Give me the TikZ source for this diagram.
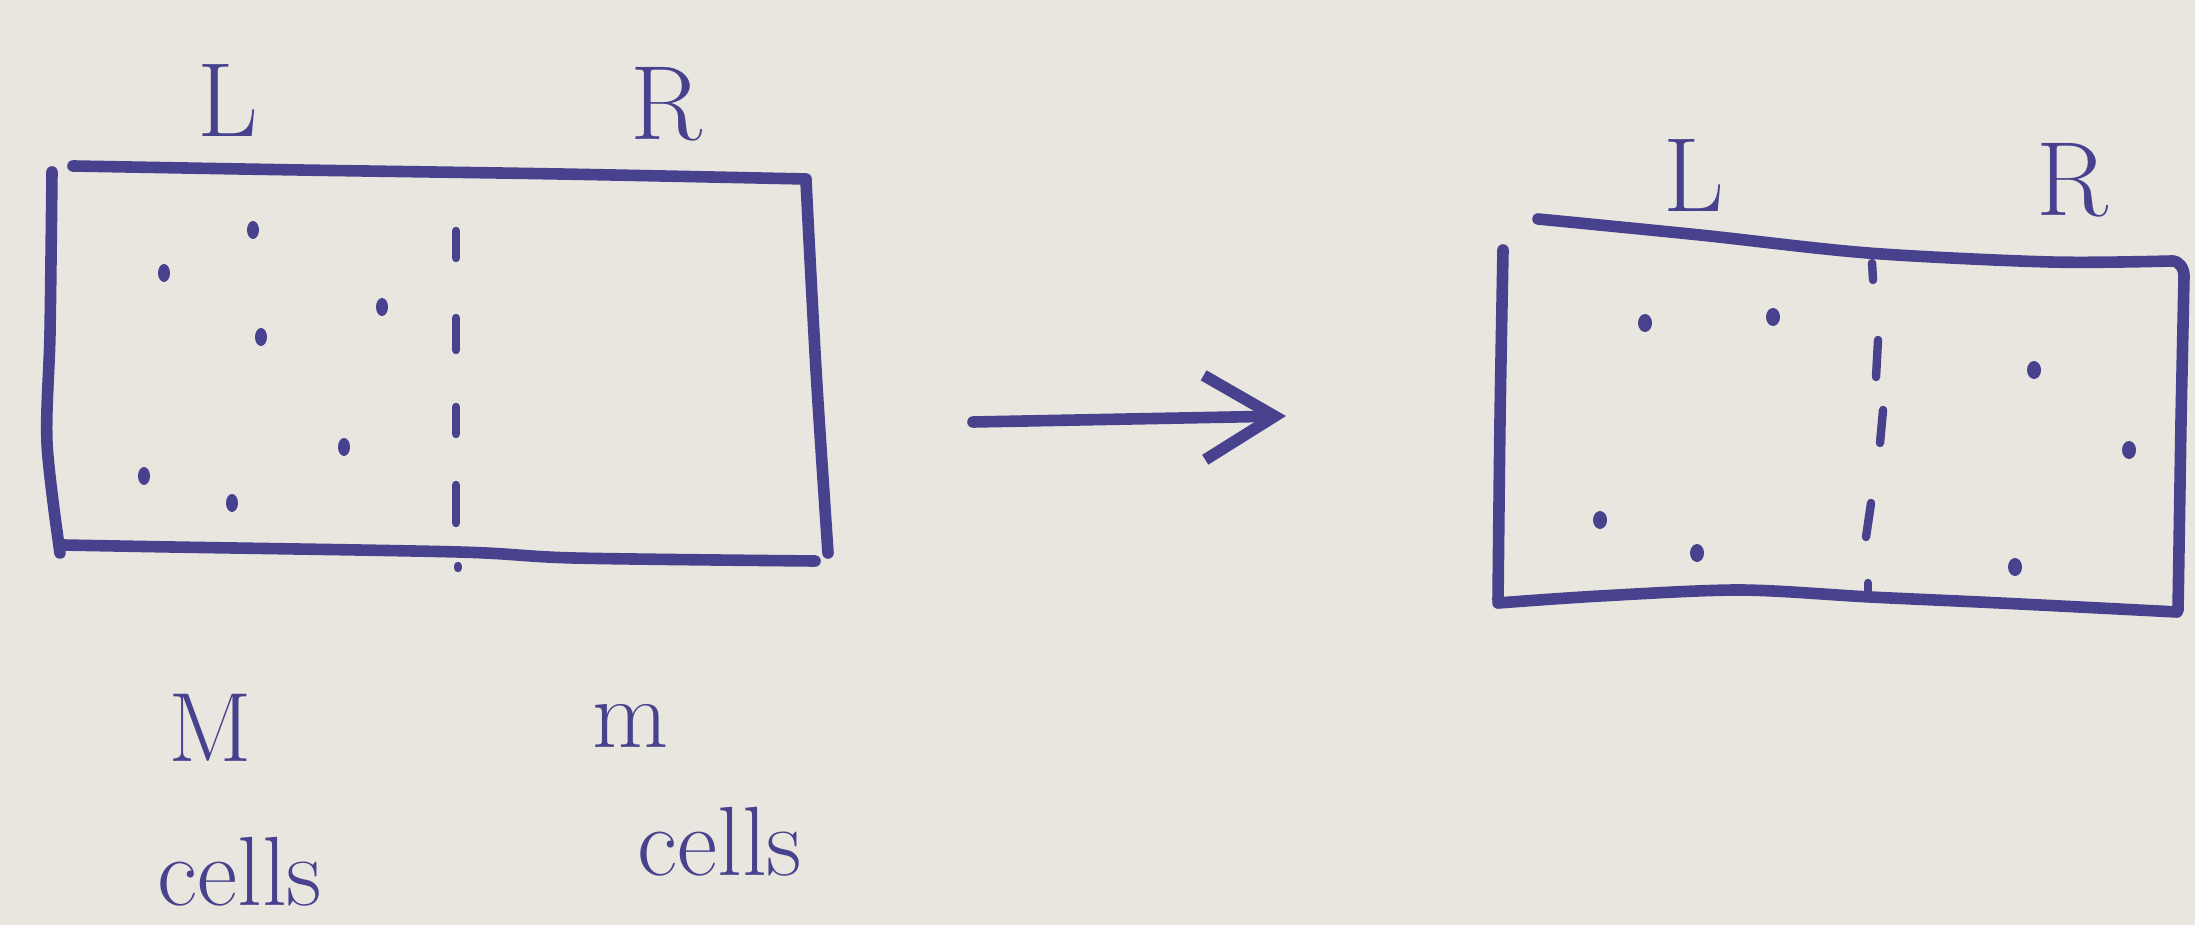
\documentclass[tikz,border=0pt]{standalone}
\usetikzlibrary{arrows.meta}
\definecolor{ink}{RGB}{72,66,142}
\definecolor{paper}{RGB}{232,230,222}
\begin{document}
\begin{tikzpicture}[x=0.01cm,y=-0.01cm,
  pen/.style={draw=ink,line width=3.3pt,line cap=round,line join=round},
  thin/.style={draw=ink,line width=2.4pt,line cap=round},
  lbl/.style={text=ink,font=\fontsize{30}{34}\selectfont,inner sep=0pt},
  sub/.style={text=ink,font=\fontsize{28}{32}\selectfont,inner sep=0pt}]
\fill[paper] (0,0) rectangle (2195,925);
\useasboundingbox (0,0) rectangle (2195,925);
% ---- left box ----
\draw[pen] plot[smooth] coordinates {(73,166) (300,170) (560,174) (806,179)};
\draw[pen] plot[smooth] coordinates {(52,172) (50,333) (47,443) (60,553)};
\draw[pen] plot[smooth] coordinates {(63,545) (172,547) (459,552) (574,558) (815,561)};
\draw[pen] plot[smooth] coordinates {(806,181) (816,370) (828,553)};
\foreach \a/\b in {231/258,318/350,407/434,485/523} \draw[thin] (456,\a) -- (456,\b);
\draw[thin] (458,566) -- (458,568);
\foreach \x/\y in {164/273,253/230,261/337,382/307,144/476,232/503,344/447}
  \fill[ink] (\x,\y) ellipse[x radius=6,y radius=9];
% ---- right box ----
\draw[pen] plot[smooth] coordinates {(1538,219) (1700,235) (1868,253) (2050,262) (2172,261)};
\draw[pen] (2172,261) to[out=0,in=90] (2184,276) -- (2181,420) -- (2178,610);
\draw[pen] plot[smooth] coordinates {(1503,250) (1500,420) (1498,600)};
\draw[pen] plot[smooth] coordinates {(1498,603) (1600,596) (1740,590) (1870,597) (2000,603) (2177,612)};
\foreach \a/\b/\c/\d in {1872/263/1873/280,1878/340/1876/377,1883/410/1880/443,1871/503/1866/537}
  \draw[thin] (\a,\b) -- (\c,\d);
\draw[thin] (1868,583) -- (1868,592);
\foreach \x/\y in {1645/323,1773/317,2034/370,2129/450,1600/520,1697/553,2015/567}
  \fill[ink] (\x,\y) ellipse[x radius=7,y radius=9];
% ---- arrow ----
\coordinate (arrS) at (973,422);
\coordinate (arrE) at (1286,416);
\draw[pen,-{Straight Barb[length=20pt,width=24pt,line width=3.3pt]}] (arrS) -- (arrE);
% ---- labels ----
\node[lbl] (lL) at (228,100) {L};
\node[lbl] (lR) at (666,104) {R};
\node[lbl] (rL) at (1694,175) {L};
\node[lbl] (rR) at (2072,180) {R};
\node[sub] (mL) at (210,728) {M};
\node[sub] (cL) at (240,872) {cells};
\node[sub] (mR) at (630,726) {m};
\node[sub] (cR) at (720,842) {cells};
\end{tikzpicture}
\end{document}
